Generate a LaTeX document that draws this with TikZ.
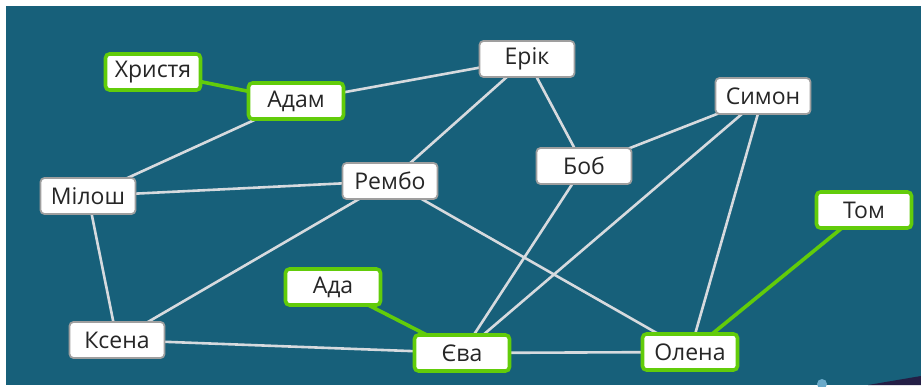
\documentclass[tikz,border=0pt]{standalone}
\usepackage{fontspec}
\setmainfont{Open Sans}
\usetikzlibrary{backgrounds}
\pgfdeclarelayer{canvas}
\pgfsetlayers{canvas,background,main}
\begin{document}
\begin{tikzpicture}[x=1pt,y=-1pt,
  person/.style={draw=gray!75!white,line width=1.8pt,fill=white,rounded corners=4pt,
    minimum width=95pt,minimum height=36pt,inner sep=0pt,font=\fontsize{23}{27}\selectfont,text=black!85},
  hl/.style={person,draw=hlgreen,line width=3.6pt},
  link/.style={draw=linkgray,line width=2.6pt},
  glink/.style={draw=hlgreen,line width=3.6pt}]
\definecolor{bgteal}{HTML}{17607A}
\definecolor{hlgreen}{HTML}{62CC0A}
\definecolor{linkgray}{HTML}{D6DADE}
\definecolor{darkwedge}{HTML}{241E45}
\definecolor{dotblue}{HTML}{6AAACA}
\useasboundingbox (0,0) rectangle (921,387);
\begin{pgfonlayer}{canvas}
\fill[white] (0,0) rectangle (921,387);
\fill[bgteal] (6,6) rectangle (921,385);
\fill[darkwedge] (868,385) -- (921,376) -- (921,385) -- cycle;
\fill[dotblue] (822,384) circle (5);
\end{pgfonlayer}
% nodes
\node[hl] (khr) at (153,72) {Христя};
\node[hl] (adam) at (296,101) {Адам};
\node[person] (erik) at (527,59) {Ерік};
\node[person] (sym) at (763,96) {Симон};
\node[person] (mil) at (88,196) {Мілош};
\node[person] (remb) at (390,181) {Рембо};
\node[person] (bob) at (584,166) {Боб};
\node[hl] (tom) at (864,210) {Том};
\node[hl] (ada) at (333,287) {Ада};
\node[person] (ksen) at (117,340) {Ксена};
\node[hl] (yeva) at (462,353) {Єва};
\node[hl] (olen) at (690,352) {Олена};
% links
\begin{scope}[on background layer]
\draw[glink] (khr.center) -- (adam.center);
\draw[link] (adam.center) -- (erik.center);
\draw[link] (adam.center) -- (mil.center);
\draw[link] (mil.center) -- (remb.center);
\draw[link] (mil.center) -- (ksen.center);
\draw[link] (erik.center) -- (remb.center);
\draw[link] (erik.center) -- (bob.center);
\draw[link] (remb.center) -- (ksen.center);
\draw[link] (remb.center) -- (olen.center);
\draw[link] (bob.center) -- (sym.center);
\draw[link] (bob.center) -- (yeva.center);
\draw[link] (sym.center) -- (yeva.center);
\draw[link] (sym.center) -- (olen.center);
\draw[glink] (tom.center) -- (olen.center);
\draw[glink] (ada.center) -- (yeva.center);
\draw[link] (ksen.center) -- (yeva.center);
\draw[link] (yeva.center) -- (olen.center);
\end{scope}
\end{tikzpicture}
\end{document}
